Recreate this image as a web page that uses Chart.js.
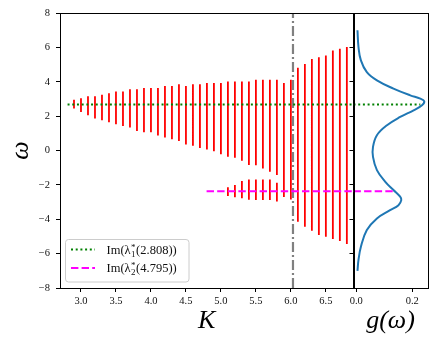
<!DOCTYPE html>
<html><head><meta charset="utf-8">
<script src="https://cdn.jsdelivr.net/npm/chart.js@4"></script>
<style>
html,body{margin:0;padding:0;background:#fff;}
#wrap{position:relative;width:436px;height:346px;overflow:hidden;}
canvas{position:absolute;left:0;top:0;}
</style></head><body>
<div id="wrap"><canvas id="main" width="436" height="346"></canvas><canvas id="side" width="436" height="346"></canvas></div>
<script>
// ---- data ----
const K = [2.9, 3.0, 3.1, 3.2, 3.3, 3.4, 3.5, 3.6, 3.7, 3.8, 3.9, 4.0, 4.1, 4.2, 4.3, 4.4, 4.5, 4.6, 4.7, 4.8,
           4.9, 5.0, 5.1, 5.2, 5.3, 5.4, 5.5, 5.6, 5.7, 5.8, 5.9, 6.0, 6.1, 6.2, 6.3, 6.4, 6.5, 6.6, 6.7, 6.8];
const upperTop = [2.96, 3.04, 3.15, 3.15, 3.25, 3.33, 3.44, 3.44, 3.56, 3.56, 3.64, 3.64, 3.64, 3.75, 3.75, 3.85, 3.75, 3.85, 3.85, 3.93,
                  3.93, 3.93, 4.02, 4.02, 4.02, 4.02, 4.12, 4.12, 4.12, 4.12, 3.93, 4.12, 4.82, 5.03, 5.32, 5.42, 5.53, 5.82, 5.92, 6.02];
const upperBottom = [2.44, 2.24, 2.05, 1.86, 1.76, 1.64, 1.53, 1.43, 1.34, 1.14, 1.06, 1.06, 0.87, 0.75, 0.66, 0.56, 0.35, 0.27, 0.15, 0.06,
                     -0.05, -0.22, -0.37, -0.42, -0.6, -0.85, -0.86, -1.05, -1.24, -1.42, -2.7, -2.85, -4.15, -4.44, -4.67, -4.92, -5.02, -5.15, -5.27, -5.44];
const lowerK = [5.1, 5.2, 5.3, 5.4, 5.5, 5.6, 5.7, 5.8];
const lowerTop = [-2.14, -2.0, -1.78, -1.68, -1.68, -1.68, -1.68, -1.87];
const lowerBottom = [-2.65, -2.72, -2.78, -2.87, -2.88, -2.88, -2.88, -2.97];

const lambda1K = 2.808, lambda1W = 2.68, lambda1G = 0.229;
const lambda2K = 4.795, lambda2W = -2.37, lambda2G = 0.136;
const Kc = 6.03;

const gOmega = [7.0, 6.02, 5.24, 4.56, 4.08, 3.6, 3.21, 3.02, 2.86, 2.63, 2.34, 1.95, 1.47, 0.89, 0.21,
                -0.37, -1.14, -1.82, -2.3, -2.69, -2.89, -3.18, -3.47, -3.95, -4.63, -5.6, -6.37, -7.0];
const gValue = [0.0046, 0.0082, 0.0168, 0.038, 0.074, 0.133, 0.193, 0.229, 0.243, 0.235, 0.205, 0.157, 0.110, 0.074, 0.060,
                0.060, 0.074, 0.104, 0.133, 0.157, 0.161, 0.151, 0.121, 0.074, 0.038, 0.0168, 0.0082, 0.0046];

const kTicks = [3.0, 3.5, 4.0, 4.5, 5.0, 5.5, 6.0, 6.5];
const wTicks = [-8, -6, -4, -2, 0, 2, 4, 6, 8];
const gTicks = [0.0, 0.2];
const kRange = [2.70, 6.895];
const wRange = [-8, 8];
const gRange = [-0.0096, 0.2546];

// ---- styling ----
const SERIF = "'Liberation Serif', 'Times New Roman', serif";
Chart.defaults.font.family = SERIF;
Chart.defaults.color = '#111';
Chart.defaults.animation = false;

const GREEN = '#008000', MAGENTA = '#ff00ff', RED = '#ff0000', GRAY = '#808080', BLUE = '#1f77b4';
const greenDash = [2, 2.7], magentaDash = [7.4, 3.2], grayDash = [10, 3, 2, 3];

// vertical red segments, separated by gaps (null)
const redSegments = [];
K.forEach((k, i) => { redSegments.push({x: k, y: upperBottom[i]}, {x: k, y: upperTop[i]}, {x: k, y: null}); });
lowerK.forEach((k, i) => { redSegments.push({x: k, y: lowerBottom[i]}, {x: k, y: lowerTop[i]}, {x: k, y: null}); });

const frame = {
  id: 'frame',
  afterDatasetsDraw(chart) {
    const {ctx, chartArea: a} = chart;
    ctx.save();
    ctx.strokeStyle = '#000';
    ctx.lineWidth = 1;
    ctx.strokeRect(Math.round(a.left) + 0.5, Math.round(a.top) + 0.5, Math.round(a.right - a.left), Math.round(a.bottom - a.top));
    ctx.restore();
  }
};

function rr(ctx, x, y, w, h, r) {
  ctx.beginPath();
  ctx.moveTo(x + r, y);
  ctx.lineTo(x + w - r, y); ctx.arcTo(x + w, y, x + w, y + r, r);
  ctx.lineTo(x + w, y + h - r); ctx.arcTo(x + w, y + h, x + w - r, y + h, r);
  ctx.lineTo(x + r, y + h); ctx.arcTo(x, y + h, x, y + h - r, r);
  ctx.lineTo(x, y + r); ctx.arcTo(x, y, x + r, y, r);
  ctx.closePath();
}

const legendEntries = [
  {color: GREEN, dash: greenDash, sub: '1', arg: lambda1K.toFixed(3)},
  {color: MAGENTA, dash: magentaDash, sub: '2', arg: lambda2K.toFixed(3)}
];
const customLegend = {
  id: 'customLegend',
  afterDraw(chart) {
    const ctx = chart.ctx;
    ctx.save();
    rr(ctx, 65.5, 239.5, 123.5, 42.5, 3);
    ctx.fillStyle = 'rgba(255,255,255,0.8)';
    ctx.fill();
    ctx.strokeStyle = '#cccccc';
    ctx.lineWidth = 1;
    ctx.stroke();
    const rows = [249.5, 268];
    legendEntries.forEach((e, i) => {
      const y = rows[i];
      ctx.beginPath();
      ctx.setLineDash(e.dash);
      ctx.strokeStyle = e.color;
      ctx.lineWidth = 2;
      ctx.moveTo(71, y); ctx.lineTo(95, y);
      ctx.stroke();
      ctx.setLineDash([]);
      ctx.fillStyle = '#111';
      ctx.textBaseline = 'alphabetic';
      const base = y + 4;
      let x = 106.5;
      ctx.font = '12.5px ' + SERIF;
      ctx.fillText('Im(λ', x, base);
      x += ctx.measureText('Im(λ').width + 0.5;
      ctx.font = '9px ' + SERIF;
      ctx.fillText(e.sub, x, base + 3);
      ctx.fillText('*', x, base - 4);
      x += Math.max(ctx.measureText(e.sub).width, ctx.measureText('*').width) + 0.5;
      ctx.font = '12.5px ' + SERIF;
      ctx.fillText('(' + e.arg + '))', x, base);
    });
    ctx.restore();
  }
};

const tickGrid = {display: true, drawOnChartArea: false, drawTicks: true, tickLength: 4, tickWidth: 1, tickColor: '#000', offset: false};
const axisBorder = {display: true, color: '#000', width: 1};
const minus = v => String(v).replace('-', '\u2212');

// ---- main panel ----
new Chart(document.getElementById('main'), {
  type: 'line',
  data: {
    datasets: [
      {order: 0, data: [{x: lambda1K, y: lambda1W}, {x: kRange[1], y: lambda1W}], borderColor: GREEN, borderWidth: 2, borderDash: greenDash, pointRadius: 0},
      {order: 0, data: [{x: lambda2K, y: lambda2W}, {x: kRange[1], y: lambda2W}], borderColor: MAGENTA, borderWidth: 2, borderDash: magentaDash, pointRadius: 0},
      {order: 0, data: [{x: Kc, y: wRange[0]}, {x: Kc, y: wRange[1]}], borderColor: GRAY, borderWidth: 2.2, borderDash: grayDash, pointRadius: 0},
      {order: 1, data: redSegments, borderColor: RED, borderWidth: 1.8, pointRadius: 0, spanGaps: false, tension: 0}
    ]
  },
  options: {
    responsive: false,
    animation: false,
    layout: {padding: {left: 0, top: 13, right: 82.5, bottom: 0}},
    plugins: {legend: {display: false}, tooltip: {enabled: false}},
    scales: {
      x: {
        type: 'linear', min: kRange[0], max: kRange[1], offset: false,
        grid: tickGrid, border: axisBorder,
        afterBuildTicks: s => { s.ticks = kTicks.map(v => ({value: v})); },
        afterFit: s => { s.height = 58; },
        ticks: {font: {size: 10.5}, color: '#111', padding: 3, maxRotation: 0, autoSkip: false, callback: v => Number(v).toFixed(1)},
        title: {display: true, text: 'K', color: '#000', font: {size: 26, style: 'italic'}, padding: {top: 0, bottom: 9}}
      },
      y: {
        type: 'linear', min: wRange[0], max: wRange[1],
        grid: tickGrid, border: axisBorder,
        afterBuildTicks: s => { s.ticks = wTicks.map(v => ({value: v})); },
        afterFit: s => { s.width = 60; },
        ticks: {font: {size: 10.5}, color: '#111', padding: 6, autoSkip: false, callback: minus},
        title: {display: true, text: 'ω', color: '#000', font: {size: 26, style: 'italic'}, padding: {top: 6, bottom: 0}}
      }
    }
  },
  plugins: [frame, customLegend]
});

// ---- side panel g(omega) ----
new Chart(document.getElementById('side'), {
  type: 'scatter',
  data: {
    datasets: [
      {order: 0, showLine: true, data: [{x: gRange[0], y: lambda1W}, {x: lambda1G, y: lambda1W}], borderColor: GREEN, borderWidth: 2, borderDash: greenDash, pointRadius: 0},
      {order: 0, showLine: true, data: [{x: gRange[0], y: lambda2W}, {x: lambda2G, y: lambda2W}], borderColor: MAGENTA, borderWidth: 2, borderDash: magentaDash, pointRadius: 0},
      {order: 1, showLine: true, data: gOmega.map((w, i) => ({x: gValue[i], y: w})), borderColor: BLUE, borderWidth: 2, tension: 0.4, pointRadius: 0}
    ]
  },
  options: {
    responsive: false,
    animation: false,
    layout: {padding: {left: 343.5, top: 13, right: 8.5, bottom: 0}},
    plugins: {legend: {display: false}, tooltip: {enabled: false}},
    scales: {
      x: {
        type: 'linear', min: gRange[0], max: gRange[1],
        grid: tickGrid, border: axisBorder,
        afterBuildTicks: s => { s.ticks = gTicks.map(v => ({value: v})); },
        afterFit: s => { s.height = 58; },
        ticks: {font: {size: 10.5}, color: '#111', padding: 3, maxRotation: 0, autoSkip: false, callback: v => Number(v).toFixed(1)},
        title: {display: true, text: 'g(ω)', color: '#000', font: {size: 26, style: 'italic'}, padding: {top: 0, bottom: 9}}
      },
      y: {
        type: 'linear', min: wRange[0], max: wRange[1],
        grid: tickGrid, border: axisBorder,
        afterBuildTicks: s => { s.ticks = wTicks.map(v => ({value: v})); },
        afterFit: s => { s.width = 10; },
        ticks: {display: false}
      }
    }
  },
  plugins: [frame]
});
</script>
</body></html>
